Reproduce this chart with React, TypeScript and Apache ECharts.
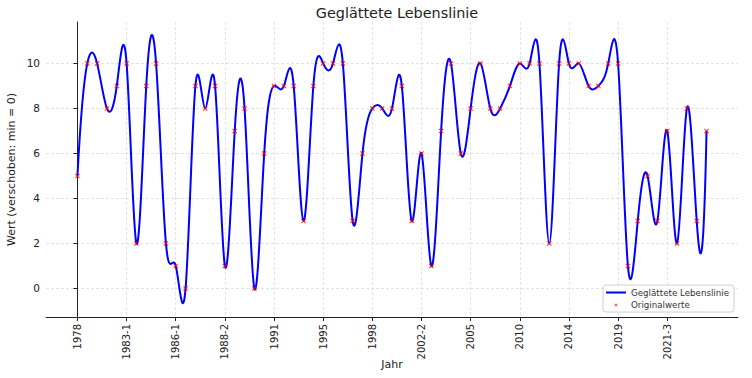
import React, { useEffect, useRef } from "react";
import * as echarts from "echarts";

const tickLabels = ["1978", "1983-1", "1986-1", "1988-2", "1991", "1995", "1998", "2002-2", "2005", "2010", "2014", "2019", "2021-3"];
const tickIndices = [0, 5, 10, 15, 20, 25, 30, 35, 40, 45, 50, 55, 60];
const originalValues = [
  5, 10, 10, 8, 9, 10, 2, 9, 10, 2,
  1, 0, 9, 8, 9, 1, 7, 8, 0, 6,
  9, 9, 9, 3, 9, 10, 10, 10, 3, 6,
  8, 8, 8, 9, 3, 6, 1, 7, 10, 6,
  8, 10, 8, 8, 9, 10, 10, 10, 2, 10,
  10, 10, 9, 9, 10, 10, 1, 3, 5, 3,
  7, 2, 8, 3, 7,
];
const yTicks = [0, 2, 4, 6, 8, 10];

const xMark = "path://M0,1.5L1.5,0L5,3.5L8.5,0L10,1.5L6.5,5L10,8.5L8.5,10L5,6.5L1.5,10L0,8.5L3.5,5Z";
const xMarkLegend =
  "path://M0,0L0.01,0L0.01,0.01Z M30,30L29.99,30L29.99,29.99Z M10.5,12L12,10.5L15,13.5L18,10.5L19.5,12L16.5,15L19.5,18L18,19.5L15,16.5L12,19.5L10.5,18L13.5,15Z";

// Tangents of a not-a-knot cubic spline through the values (uniform spacing),
// used only to draw the curve as cubic Bezier segments between the original points.
function splineSlopes(y: number[]): number[] {
  const n = y.length - 1;
  const d: number[] = y.map((_, i) => (i > 0 && i < n ? 6 * (y[i + 1] - 2 * y[i] + y[i - 1]) : 0));
  const M = new Array(n + 1).fill(0);
  M[1] = d[1] / 6;
  M[n - 1] = d[n - 1] / 6;
  const a: number[] = [], b: number[] = [], c: number[] = [], r: number[] = [];
  for (let i = 2; i <= n - 2; i++) {
    a.push(1); b.push(4); c.push(1);
    let rhs = d[i];
    if (i === 2) rhs -= M[1];
    if (i === n - 2) rhs -= M[n - 1];
    r.push(rhs);
  }
  const m = r.length;
  for (let i = 1; i < m; i++) {
    const w = a[i] / b[i - 1];
    b[i] -= w * c[i - 1];
    r[i] -= w * r[i - 1];
  }
  const sol = new Array(m).fill(0);
  sol[m - 1] = r[m - 1] / b[m - 1];
  for (let i = m - 2; i >= 0; i--) sol[i] = (r[i] - c[i] * sol[i + 1]) / b[i];
  for (let i = 0; i < m; i++) M[i + 2] = sol[i];
  M[0] = 2 * M[1] - M[2];
  M[n] = 2 * M[n - 1] - M[n - 2];
  const s: number[] = [];
  for (let i = 0; i < n; i++) s.push(y[i + 1] - y[i] - (2 * M[i] + M[i + 1]) / 6);
  s.push(y[n] - y[n - 1] + (M[n - 1] + 2 * M[n]) / 6);
  return s;
}

export default function App() {
  const ref = useRef<HTMLDivElement>(null);
  useEffect(() => {
    if (!ref.current) return;
    const chart = echarts.init(ref.current, null, { renderer: "svg" });
    const pts = originalValues.map((v, i) => [i, v]);
    const slopes = splineSlopes(originalValues);
    chart.setOption({
      animation: false,
      textStyle: { fontFamily: "DejaVu Sans" },
      title: {
        text: "Geglättete Lebenslinie",
        left: 392,
        textAlign: "center",
        top: 1,
        textStyle: { fontSize: 14.4, fontWeight: "normal", color: "#222", fontFamily: "DejaVu Sans" },
      },
      grid: { left: 46, right: 14, top: 22, bottom: 61, outerBoundsMode: "none", containLabel: false },
      legend: {
        right: 18,
        bottom: 66,
        orient: "vertical",
        backgroundColor: "rgba(255,255,255,0.8)",
        borderColor: "#d0d0d0",
        borderWidth: 1,
        borderRadius: 3,
        padding: [3, 5, 2, 3],
        itemGap: 3,
        itemWidth: 20,
        itemHeight: 10,
        textStyle: { fontSize: 8.7, color: "#333", fontFamily: "DejaVu Sans" },
        data: [
          { name: "Geglättete Lebenslinie", icon: "path://M0,4L20,4L20,6L0,6Z", itemStyle: { color: "#0000ff" } },
          { name: "Originalwerte", icon: xMarkLegend, itemStyle: { color: "#ff0000" } },
        ],
      },
      xAxis: {
        type: "value",
        min: -3.2,
        max: 67.2,
        name: "Jahr",
        nameLocation: "middle",
        nameGap: 42,
        nameMoveOverlap: false,
        nameTextStyle: { fontSize: 11, color: "#222", verticalAlign: "top" },
        axisLine: { onZero: false, lineStyle: { color: "#222", width: 1 } },
        axisTick: { show: true, length: 4, customValues: tickIndices, lineStyle: { color: "#222" } },
        axisLabel: {
          customValues: tickIndices,
          rotate: 90,
          fontSize: 10,
          color: "#222",
          margin: 7,
          formatter: (v: number) => tickLabels[tickIndices.indexOf(Math.round(v))] ?? "",
        },
        splitLine: { show: true, lineStyle: { color: "#dcdcdc", type: [3, 2], width: 0.8 } },
      },
      yAxis: {
        type: "value",
        min: -1.27,
        max: 11.84,
        name: "Wert (verschoben: min = 0)",
        nameLocation: "middle",
        nameGap: 29,
        nameMoveOverlap: false,
        nameTextStyle: { fontSize: 11, color: "#222" },
        axisLine: { show: true, lineStyle: { color: "#222", width: 1 } },
        axisTick: { show: true, length: 4, customValues: yTicks, lineStyle: { color: "#222" } },
        axisLabel: { customValues: yTicks, fontSize: 10.5, color: "#222", margin: 6 },
        splitLine: { show: true, lineStyle: { color: "#dcdcdc", type: [3, 2], width: 0.8 } },
      },
      series: [
        {
          name: "Geglättete Lebenslinie",
          type: "custom",
          data: pts,
          encode: { x: 0, y: 1 },
          itemStyle: { color: "#0000ff" },
          z: 2,
          renderItem: (params: any, api: any) => {
            if (params.dataIndex !== 0) return null;
            const ys = originalValues;
            const p0 = api.coord([0, ys[0]]);
            let d = `M${p0[0]},${p0[1]}`;
            for (let i = 0; i < ys.length - 1; i++) {
              const c1 = api.coord([i + 1 / 3, ys[i] + slopes[i] / 3]);
              const c2 = api.coord([i + 1 - 1 / 3, ys[i + 1] - slopes[i + 1] / 3]);
              const p = api.coord([i + 1, ys[i + 1]]);
              d += `C${c1[0]},${c1[1]} ${c2[0]},${c2[1]} ${p[0]},${p[1]}`;
            }
            return {
              type: "path",
              shape: { pathData: d },
              style: { fill: "none", stroke: "#0000ff", lineWidth: 2, lineJoin: "round" },
            };
          },
        },
        {
          name: "Originalwerte",
          type: "scatter",
          data: pts,
          symbol: xMark,
          symbolSize: 5,
          itemStyle: { color: "#ff0000" },
          z: 3,
        },
      ],
    });
    return () => chart.dispose();
  }, []);
  return <div ref={ref} style={{ width: 752, height: 378, position: "absolute", left: 0, top: 0 }} />;
}
